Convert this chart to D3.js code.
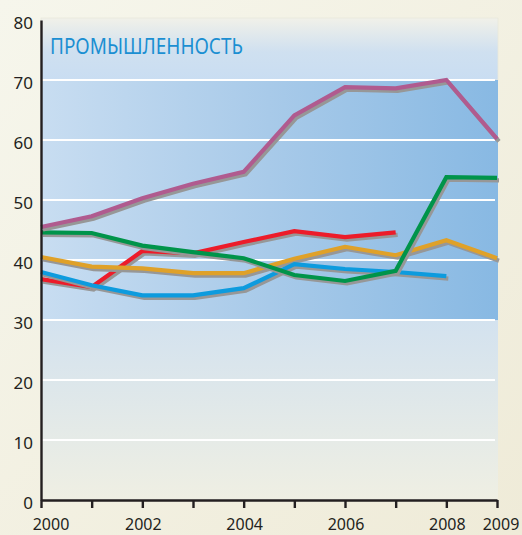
<!DOCTYPE html>
<html lang="ru">
  <head>
    <meta charset="UTF-8">
    <title>Промышленность</title>
    <style>
      html, body { margin: 0; padding: 0; }
      body { width: 522px; height: 535px; overflow: hidden; }
      text { font-family: "Noto Sans", "DejaVu Sans", sans-serif; fill: #231f20; }
    </style>
  </head>
  <body>
    <svg id="chart" width="522" height="535"></svg>

    <script src="https://cdn.jsdelivr.net/npm/d3@7/dist/d3.min.js"></script>
    <script>
      // data
      var years = [2000, 2001, 2002, 2003, 2004, 2005, 2006, 2007, 2008, 2009];
      var yearLabels = [2000, 2002, 2004, 2006, 2008, 2009];
      var yTicks = [0, 10, 20, 30, 40, 50, 60, 70, 80];

      var purple = [45.5, 47.3, 50.3, 52.7, 54.7, 64.1, 68.8, 68.6, 70.0, 60.2];
      var green  = [44.6, 44.5, 42.4, 41.3, 40.3, 37.5, 36.5, 38.2, 53.8, 53.7];
      var red    = [36.8, 35.5, 41.5, 41.1, 43.0, 44.8, 43.8, 44.6];
      var orange = [40.5, 38.9, 38.6, 37.8, 37.8, 40.2, 42.2, 40.8, 43.3, 40.3];
      var blue   = [38.0, 35.8, 34.1, 34.1, 35.3, 39.3, 38.5, 38.0, 37.3];

      var series = [
        { name: "red", color: "#ec1c2a", values: red },
        { name: "orange", color: "#dfa129", values: orange },
        { name: "blue", color: "#0d9bde", values: blue },
        { name: "green", color: "#00944a", values: green },
        { name: "purple", color: "#b05b8f", values: purple }
      ];

      var svg = d3.select("#chart");
      var width = 522, height = 535;

      var x = d3.scaleLinear().domain([2000, 2009]).range([41, 497]);
      var y = d3.scaleLinear().domain([0, 80]).range([500, 20]);

      var defs = svg.append("defs");

      // page background
      var pageGrad = defs.append("linearGradient").attr("id", "page")
          .attr("x1", 0).attr("y1", 0).attr("x2", 1).attr("y2", 1);
      pageGrad.append("stop").attr("offset", 0).attr("stop-color", "#f6f6ec");
      pageGrad.append("stop").attr("offset", 1).attr("stop-color", "#efebd8");
      svg.append("rect").attr("width", width).attr("height", height).attr("fill", "url(#page)");

      // top band 70-80
      var topGrad = defs.append("linearGradient").attr("id", "top")
          .attr("x1", 0).attr("y1", 0).attr("x2", 0).attr("y2", 1);
      topGrad.append("stop").attr("offset", 0).attr("stop-color", "#f1f1e9");
      topGrad.append("stop").attr("offset", 0.55).attr("stop-color", "#cfe0f0");
      topGrad.append("stop").attr("offset", 1).attr("stop-color", "#c9ddf2");

      // middle band 30-70
      var midGrad = defs.append("linearGradient").attr("id", "mid")
          .attr("x1", 0).attr("y1", 0).attr("x2", 1).attr("y2", 0);
      midGrad.append("stop").attr("offset", 0).attr("stop-color", "#c8ddf1");
      midGrad.append("stop").attr("offset", 0.5).attr("stop-color", "#a8cae9");
      midGrad.append("stop").attr("offset", 1).attr("stop-color", "#88b9e3");

      // bottom band 0-30
      var botGrad = defs.append("linearGradient").attr("id", "bot")
          .attr("x1", 0).attr("y1", 0).attr("x2", 0).attr("y2", 1);
      botGrad.append("stop").attr("offset", 0).attr("stop-color", "#d3e2ef");
      botGrad.append("stop").attr("offset", 1).attr("stop-color", "#efefe3");

      var left = x(2000), right = x(2009) + 1;
      svg.append("rect").attr("x", left).attr("y", y(80) - 2)
          .attr("width", right - left).attr("height", y(70) - y(80) + 2)
          .attr("fill", "url(#top)").attr("stroke", "#e8e8dc").attr("stroke-width", 0.8);
      svg.append("rect").attr("x", left).attr("y", y(70))
          .attr("width", right - left).attr("height", y(30) - y(70))
          .attr("fill", "url(#mid)");
      svg.append("rect").attr("x", left).attr("y", y(30))
          .attr("width", right - left).attr("height", y(0) - y(30))
          .attr("fill", "url(#bot)");

      // white gridlines
      svg.append("g").selectAll("line")
        .data(yTicks.filter(function(d) { return d > 0 && d < 80; }))
        .enter().append("line")
          .attr("x1", left).attr("x2", x(2009) - 2)
          .attr("y1", function(d) { return y(d); })
          .attr("y2", function(d) { return y(d); })
          .attr("stroke", "#ffffff").attr("stroke-width", 2);

      // title
      svg.append("text")
          .attr("x", 50).attr("y", 54)
          .attr("textLength", 193).attr("lengthAdjust", "spacingAndGlyphs")
          .style("font-size", "21px").style("fill", "#1b8fd2")
          .text("ПРОМЫШЛЕННОСТЬ");

      // lines with grey drop shadow
      var line = d3.line()
          .x(function(d, i) { return x(years[i]); })
          .y(function(d) { return y(d); });

      series.forEach(function(s) {
        svg.append("path")
            .attr("d", line(s.values))
            .attr("transform", "translate(2,2.5)")
            .attr("fill", "none")
            .attr("stroke", "#979797")
            .attr("stroke-width", 4.2);
        svg.append("path")
            .attr("d", line(s.values))
            .attr("fill", "none")
            .attr("stroke", s.color)
            .attr("stroke-width", 4.2);
      });

      // y axis
      var yAxis = svg.append("g")
          .attr("transform", "translate(" + left + ",0)")
          .call(d3.axisLeft(y).tickValues(yTicks).tickSize(0).tickPadding(8));
      yAxis.select(".domain").attr("stroke", "#231f20").attr("stroke-width", 2.4);
      yAxis.selectAll("text")
          .attr("dy", "0.85em")
          .attr("x", -8)
          .style("font-size", "17px")
          .style("font-family", "'Noto Sans', sans-serif")
          .style("fill", "#231f20");
      yAxis.selectAll(".tick text").attr("transform", "translate(0,-6)");

      // x axis
      var xAxis = svg.append("g")
          .attr("transform", "translate(0," + y(0) + ")")
          .call(d3.axisBottom(x).tickValues(years).tickSize(8).tickSizeOuter(0).tickFormat(""));
      xAxis.select(".domain").attr("stroke", "#231f20").attr("stroke-width", 2.4);
      xAxis.selectAll(".tick line").attr("stroke", "#231f20").attr("stroke-width", 2.4);

      svg.append("g").selectAll("text")
        .data(yearLabels)
        .enter().append("text")
          .attr("x", function(d) {
            if (d === 2000) return x(d) + 10;
            if (d === 2009) return x(d) + 4;
            return x(d) + 1;
          })
          .attr("y", 530)
          .attr("text-anchor", "middle")
          .style("font-size", "16px")
          .text(function(d) { return d; });
    </script>
  </body>
</html>
